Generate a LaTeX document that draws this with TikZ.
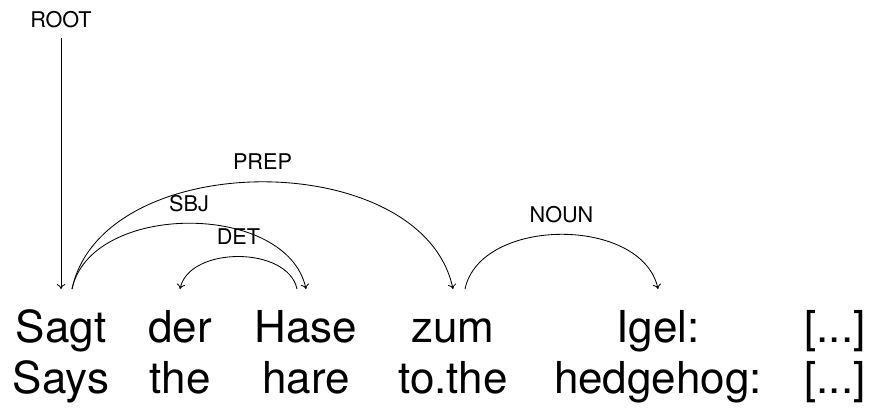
\documentclass[tikz,border=0pt]{standalone}
\usepackage{fontspec}
\setmainfont{TeX Gyre Heros}
\usepackage{tikz}
\usetikzlibrary{arrows.meta,positioning,calc}

\newcommand{\wordfont}{\fontsize{31.3}{36}\selectfont}
\newcommand{\relfont}{\fontsize{15.4}{18}\selectfont}

\begin{document}
\begin{tikzpicture}[
    word/.style={font=\wordfont, anchor=base, inner sep=0pt, text height=1.0cm, text depth=0.3cm, outer ysep=0.325cm},
    rel/.style={font=\relfont, inner sep=0pt, text depth=0pt},
    deparc/.style={line width=0.6pt, -{To[length=3.5pt, width=6pt]}}
]
    \useasboundingbox (0,0) rectangle (21.725,10.175);

    % sentence
    \node[word] (sagt) at (1.525,1.625) {Sagt};
    \node[word] (der) at (4.5,1.625) {der};
    \node[word] (hase) at (7.65,1.625) {Hase};
    \node[word] (zum) at (11.325,1.625) {zum};
    \node[word] (igel) at (16.45,1.625) {Igel:};
    \node[word] (rest) at (20.875,1.625) {[...]};

    % glosses
    \node[word] (says) at (1.525,0.35) {Says};
    \node[word] (the) at (4.5,0.35) {the};
    \node[word] (hare) at (7.65,0.35) {hare};
    \node[word] (tothe) at (11.325,0.35) {to.the};
    \node[word] (hedgehog) at (16.45,0.35) {hedgehog:};
    \node[word] (glossrest) at (20.875,0.35) {[...]};

    % root
    \node[rel, anchor=base] (root) at (1.525,9.5) {ROOT};
    \draw[deparc] ([yshift=-0.275cm]root.south) -- (sagt.north);

    % dependency arcs
    \draw[deparc] ([xshift=0.275cm]sagt.north) .. controls +(0.76,3.57) and +(-0.76,3.57) .. (zum.north)
        node[rel, pos=0.5, above=0.29cm] {PREP};
    \draw[deparc] ([xshift=0.275cm]sagt.north) .. controls +(0.47,2.19) and +(-0.47,2.19) .. (hase.north)
        node[rel, pos=0.5, above=0.29cm] {SBJ};
    \draw[deparc] ([xshift=-0.225cm]hase.north) .. controls +(-0.23,1.08) and +(0.23,1.08) .. (der.north)
        node[rel, pos=0.5, above=0.29cm] {DET};
    \draw[deparc] ([xshift=0.3cm]zum.north) .. controls +(0.39,1.82) and +(-0.39,1.82) .. (igel.north)
        node[rel, pos=0.5, above=0.29cm] {NOUN};
\end{tikzpicture}
\end{document}
